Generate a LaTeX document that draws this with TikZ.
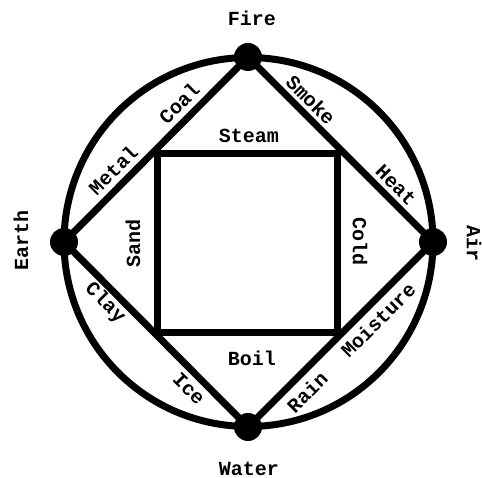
\documentclass[tikz,border=0pt]{standalone}
\usepackage{fontspec}
\setmonofont{Liberation Mono}
\begin{document}
\begin{tikzpicture}[x=1pt,y=1pt,
  thick line/.style={line width=7pt,draw=black},
  elem/.style={circle,fill=black,minimum size=28pt,inner sep=0pt},
  lbl/.style={font=\ttfamily\bfseries\fontsize{20}{22}\selectfont,inner sep=0pt}]
\useasboundingbox (0,0) rectangle (482,478);
\fill[white] (0,0) rectangle (482,478);
% circle
\coordinate (c) at (248.5,236);
\draw[thick line] (c) circle (184.5);
% square
\draw[thick line] (157.5,145) rectangle (337.5,324);
% element nodes
\node[elem] (fire) at (248,421) {};
\node[elem] (earth) at (64,236) {};
\node[elem] (air) at (433,236) {};
\node[elem] (water) at (248,51) {};
% diamond
\draw[thick line] (fire.center) -- (earth.center) -- (water.center) -- (air.center) -- cycle;
% outer labels
\node[lbl] (tfire) at (252,460) {Fire};
\node[lbl,rotate=90] (tearth) at (21,237) {Earth};
\node[lbl,rotate=-90] (tair) at (474,234) {Air};
\node[lbl] (twater) at (249,9) {Water};
% square labels
\node[lbl] (tsteam) at (249,342) {Steam};
\node[lbl] (tboil) at (252,120) {Boil};
\node[lbl,rotate=90] (tsand) at (133,234) {Sand};
\node[lbl,rotate=-90] (tcold) at (360,236) {Cold};
% edge labels
\node[lbl,rotate=45] (tcoal) at (179,375) {Coal};
\node[lbl,rotate=45] (tmetal) at (113,308) {Metal};
\node[lbl,rotate=-45] (tsmoke) at (311,378) {Smoke};
\node[lbl,rotate=-45] (theat) at (396,293) {Heat};
\node[lbl,rotate=-45] (tclay) at (105,175) {Clay};
\node[lbl,rotate=-45] (tice) at (189,89) {Ice};
\node[lbl,rotate=45] (tmoist) at (378,158) {Moisture};
\node[lbl,rotate=45] (train) at (307,86) {Rain};
\end{tikzpicture}
\end{document}
